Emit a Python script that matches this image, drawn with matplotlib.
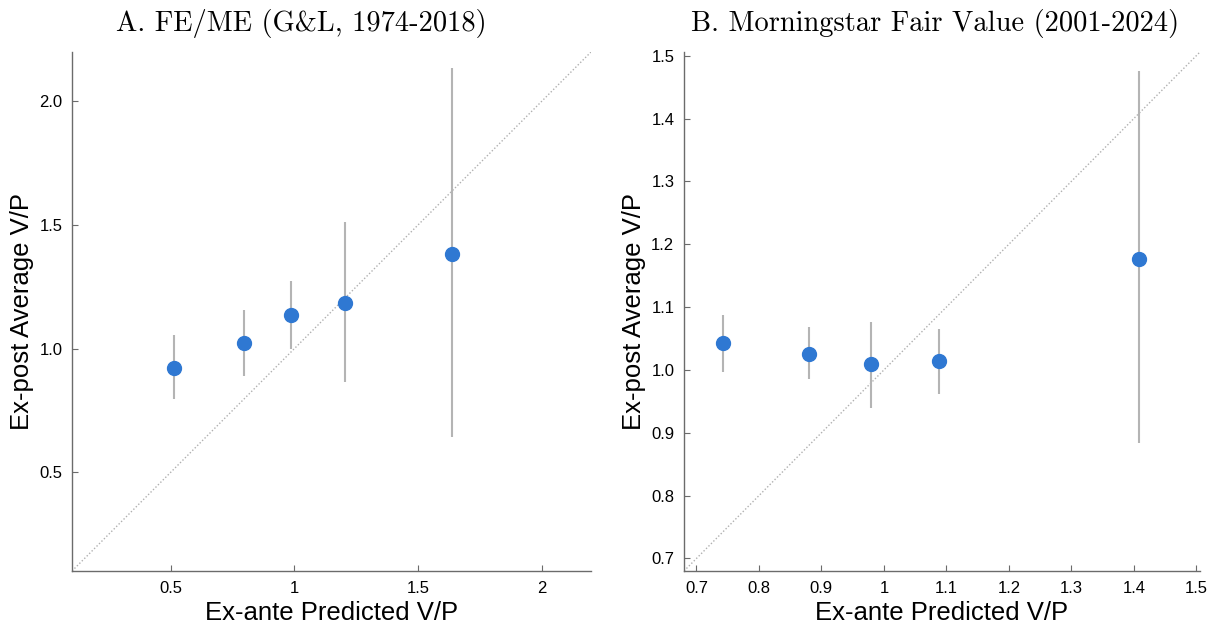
import matplotlib
matplotlib.use("Agg")
import matplotlib.pyplot as plt

# Panel A: FE/ME (G&L, 1974-2018)
a_pred = [0.512, 0.797, 0.986, 1.203, 1.636]
a_avg = [0.923, 1.023, 1.135, 1.185, 1.382]
a_lo = [0.795, 0.889, 0.997, 0.865, 0.642]
a_hi = [1.054, 1.155, 1.272, 1.511, 2.135]

# Panel B: Morningstar Fair Value (2001-2024)
b_pred = [0.742, 0.880, 0.980, 1.088, 1.408]
b_avg = [1.043, 1.026, 1.009, 1.014, 1.177]
b_lo = [0.997, 0.985, 0.940, 0.962, 0.883]
b_hi = [1.088, 1.068, 1.077, 1.065, 1.475]

a_lim = (0.1, 2.2)
b_lim = (0.68, 1.506)
a_xticks = [0.5, 1, 1.5, 2]
a_xlabels = ["0.5", "1", "1.5", "2"]
a_yticks = [0.5, 1.0, 1.5, 2.0]
a_ylabels = ["0.5", "1.0", "1.5", "2.0"]
b_ticks = [0.7, 0.8, 0.9, 1.0, 1.1, 1.2, 1.3, 1.4, 1.5]
b_xlabels = ["0.7", "0.8", "0.9", "1", "1.1", "1.2", "1.3", "1.4", "1.5"]
b_ylabels = ["0.7", "0.8", "0.9", "1.0", "1.1", "1.2", "1.3", "1.4", "1.5"]

blue = "#2f78d2"
grey = "#b4b4b4"
axcol = "#6b6b6b"
sans = "Liberation Sans"

fig = plt.figure(figsize=(12.14, 6.29), dpi=100)
axA = fig.add_axes([72 / 1214, 1 - 571 / 629, 519 / 1214, 519 / 629])
axB = fig.add_axes([684 / 1214, 1 - 571 / 629, 516 / 1214, 519 / 629])


def draw(ax, x, y, lo, hi, lim):
    ax.plot(lim, lim, color="#b0b0b0", linestyle=(0, (1, 1.5)), linewidth=1.0, zorder=1)
    ax.vlines(x, lo, hi, color=grey, linewidth=1.5, zorder=2)
    ax.plot(x, y, "o", color=blue, markersize=10, zorder=3)
    ax.set_xlim(lim)
    ax.set_ylim(lim)
    for s in ["top", "right"]:
        ax.spines[s].set_visible(False)
    for s in ["left", "bottom"]:
        ax.spines[s].set_color(axcol)
        ax.spines[s].set_linewidth(1.0)
    ax.tick_params(direction="in", length=4, width=0.8, color=axcol, labelsize=12, pad=7)
    ax.set_xlabel("Ex-ante Predicted V/P", fontsize=18.5, fontfamily=sans, labelpad=4)
    ax.set_ylabel("Ex-post Average V/P", fontsize=18.5, fontfamily=sans, labelpad=4)


draw(axA, a_pred, a_avg, a_lo, a_hi, a_lim)
axA.set_xticks(a_xticks, a_xlabels)
axA.set_yticks(a_yticks, a_ylabels)
draw(axB, b_pred, b_avg, b_lo, b_hi, b_lim)
axB.set_xticks(b_ticks, b_xlabels)
axB.set_yticks(b_ticks, b_ylabels)
for ax in (axA, axB):
    for lab in ax.get_xticklabels() + ax.get_yticklabels():
        lab.set_fontfamily(sans)

fig.text(301 / 1214, 1 - 24 / 629, "A. FE/ME (G&L, 1974-2018)", fontfamily="cmr10",
         fontsize=20.5, ha="center", va="center")
fig.text(935 / 1214, 1 - 24 / 629, "B. Morningstar Fair Value (2001-2024)", fontfamily="cmr10",
         fontsize=20.5, ha="center", va="center")

fig.savefig("out.png", dpi=100, facecolor="white")
